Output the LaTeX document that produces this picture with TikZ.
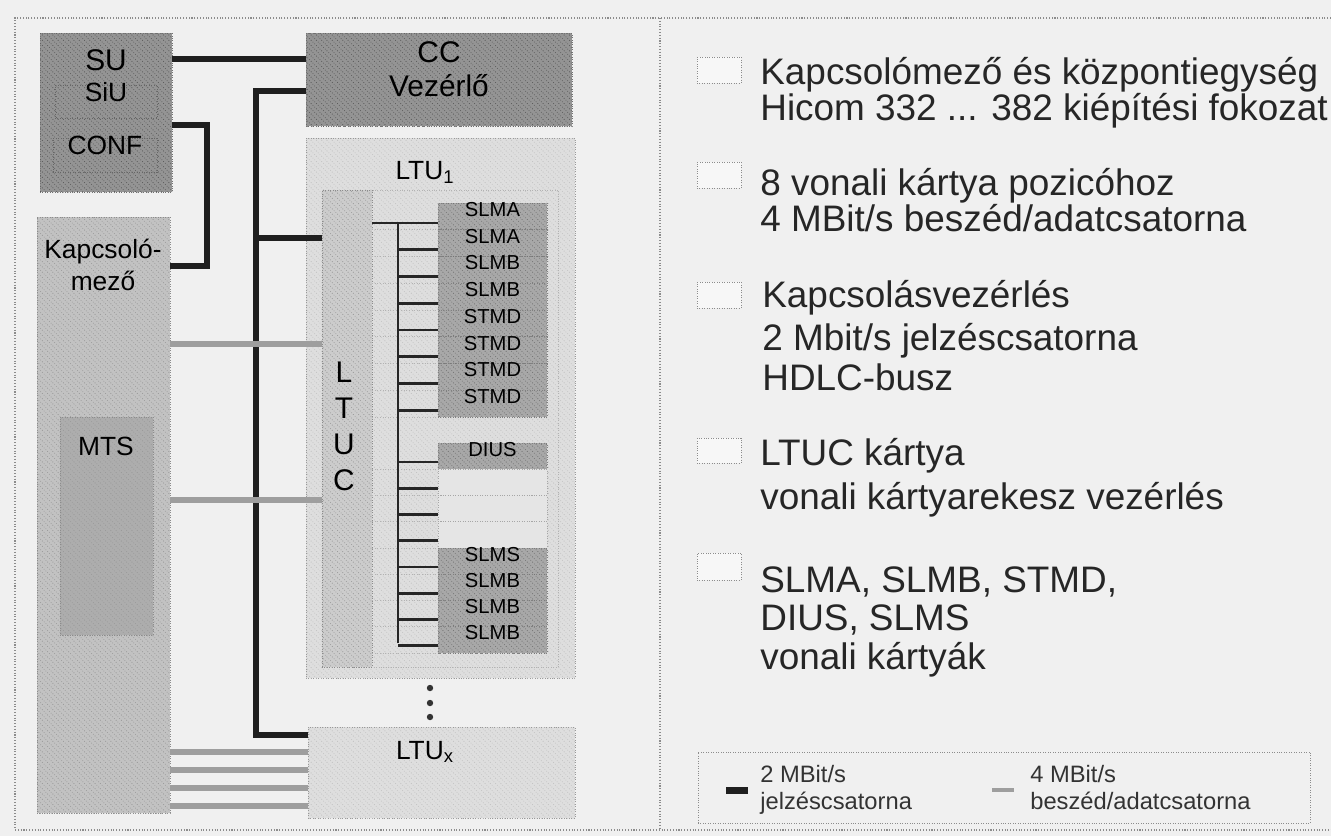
\documentclass[tikz,border=0pt]{standalone}
\usepackage{fontspec}
\setmainfont{Liberation Sans}
\usetikzlibrary{fit,patterns,positioning}

\begin{document}
\begin{tikzpicture}[x=0.02cm,y=-0.02cm,
  font=\fontsize{15}{18}\selectfont,
  frame/.style={draw=black!45, densely dotted, line width=0.6pt},
  dark/.style={draw=black!55, densely dotted, fill=black!42, inner sep=0pt,
               postaction={pattern=north west lines, pattern color=black!65}},
  mid/.style={draw=black!45, densely dotted, fill=black!24, inner sep=0pt,
              postaction={pattern=north west lines, pattern color=black!40}},
  pale/.style={draw=black!40, densely dotted, fill=black!13, inner sep=0pt,
               postaction={pattern=north west lines, pattern color=black!24}},
  inset/.style={draw=black!60, densely dotted, inner sep=0pt},
  card/.style={draw=black!50, densely dotted, fill=black!34, inner sep=0pt,
               font=\fontsize{11.5}{13}\selectfont,
               postaction={pattern=north west lines, pattern color=black!55}},
  vacant/.style={draw=black!35, densely dotted, fill=black!10, inner sep=0pt},
  sig/.style={draw=black!88, line width=3.4pt},
  voice/.style={draw=black!38, line width=3pt},
  comb/.style={draw=black!85, line width=1.6pt},
  slotline/.style={draw=black!30, densely dotted, line width=0.5pt},
  swatch/.style={draw=black!45, densely dotted, fill=black!3, inner sep=0pt},
  entry/.style={anchor=base west, inner sep=0pt, font=\fontsize{21}{23}\selectfont, text=black!85},
  keytext/.style={anchor=base west, inner sep=0pt, font=\fontsize{13.5}{15}\selectfont, text=black!80}
]
\fill[black!6] (0,0) rectangle (1331,836);
\useasboundingbox (0,0) rectangle (1331,836);
\draw[frame] (1331,18) -- (15,18) -- (15,830) -- (1331,830);
\draw[frame] (660,18) -- (660,830);

% switching part
\node[dark, fit={(40,33) (172,192)}] (su) {};
\node (sulbl) at (106,60) {\fontsize{17}{20}\selectfont SU};
\node[inset, fit={(55,85) (157,118)}] (siu) {SiU};
\node[inset, fit={(53,138) (157,172)}] (conf) {CONF};
\node[dark, fit={(306,33) (572,126)}, align=center, font=\fontsize{17}{19}\selectfont] (cc) {CC\\Vezérlő};
\node[mid, fit={(37,217) (170,813)}] (km) {};
\node[align=center] (kmlbl) at (103,265) {Kapcsoló-\\mező};
\node[mid, fill=black!32, fit={(60,417) (153,635)}] (mts) {};
\node (mtslbl) at (106,446) {MTS};

% line trunk units
\node[pale, fit={(306,138) (575,678)}] (ltu1) {};
\node (ltu1lbl) at (425,172) {LTU\textsubscript{1}};
\node[inset, draw=black!30, fit={(322,190) (558,667)}] (bay) {};
\node[mid, fill=black!20, fit={(322,190) (372,667)}] (ltuc) {};
\node[align=center, font=\fontsize{17}{20.5}\selectfont] (ltuclbl) at (344,426) {L\\T\\U\\C};
\foreach \lbl [count=\i from 0] in {SLMA,SLMA,SLMB,SLMB,STMD,STMD,STMD,STMD} {
  \pgfmathsetmacro\ctop{203+26.75*\i}
  \pgfmathsetmacro\cbot{\ctop+26.75}
  \pgfmathsetmacro\ty{\ctop+20}
  \draw[slotline] (372,\cbot) -- (438,\cbot);
  \node[card, fit={(438,\ctop) (547,\cbot)}] (c\i) {\lbl};
  \draw[comb] (398,\ty) -- (c\i.west |- 0,\ty);
}
\foreach \lbl/\sty [count=\i from 8] in {DIUS/card,{}/vacant,{}/vacant,{}/vacant,SLMS/card,SLMB/card,SLMB/card,SLMB/card} {
  \pgfmathsetmacro\ctop{443+26.25*(\i-8)}
  \pgfmathsetmacro\cbot{\ctop+26.25}
  \pgfmathsetmacro\ty{\ctop+19}
  \draw[slotline] (372,\cbot) -- (438,\cbot);
  \node[\sty, fit={(438,\ctop) (547,\cbot)}] (c\i) {\lbl};
  \draw[comb] (398,\ty) -- (c\i.west |- 0,\ty);
}
\coordinate (combtop) at (398,223);
\coordinate (combbot) at (398,643);
\draw[comb] (ltuc.east |- combtop) -- (c0.west |- combtop);
\draw[comb] (combtop) -- (combbot);
\foreach \y in {688,703,717} \fill[black!80] (430,\y) circle (3.2);
\node[pale, fit={(308,727) (575,818)}] (ltux) {};
\node (ltuxlbl) at (425,752) {LTU\textsubscript{x}};

% signalling bus
\coordinate (busin) at (256,91);
\coordinate (busout) at (256,735);
\coordinate (busltu) at (256,238);
\draw[sig] (su.east |- 0,59) -- (cc.west |- 0,59);
\draw[sig] (cc.west |- busin) -- (busin) -- (busout) -- (ltux.west |- busout);
\draw[sig] (busltu) -- (ltuc.west |- busltu);
\coordinate (kmbend) at (207,125);
\draw[sig] (su.east |- kmbend) -- (kmbend) -- (kmbend |- 0,266) -- (km.east |- 0,266);

% voice/data
\foreach \y in {344,500} \draw[voice] (km.east |- 0,\y) -- (ltuc.west |- 0,\y);
\foreach \y in {752,770,788,806} \draw[voice] (km.east |- 0,\y) -- (ltux.west |- 0,\y);

% legend
\node[swatch, fit={(697,57) (741,83)}] (sw1) {};
\node[entry] (e1a) at (760,84) {Kapcsolómező és központiegység};
\node[entry] (e1b) at (760,120) {Hicom 332 ... 382 kiépítési fokozat};
\node[swatch, fit={(697,162) (741,188)}] (sw2) {};
\node[entry] (e2a) at (760,195) {8 vonali kártya pozicóhoz};
\node[entry] (e2b) at (760,231) {4 MBit/s beszéd/adatcsatorna};
\node[swatch, fit={(697,282) (741,308)}] (sw3) {};
\node[entry] (e3a) at (762,307) {Kapcsolásvezérlés};
\node[entry] (e3b) at (762,350) {2 Mbit/s jelzéscsatorna};
\node[entry] (e3c) at (762,390) {HDLC-busz};
\node[swatch, fit={(697,438) (741,463)}] (sw4) {};
\node[entry] (e4a) at (760,465) {LTUC kártya};
\node[entry] (e4b) at (760,509) {vonali kártyarekesz vezérlés};
\node[swatch, fit={(697,553) (741,580)}] (sw5) {};
\node[entry] (e5a) at (760,592) {SLMA, SLMB, STMD,};
\node[entry] (e5b) at (760,630) {DIUS, SLMS};
\node[entry] (e5c) at (760,669) {vonali kártyák};

\node[swatch, fill=none, fit={(698,752) (1310,823)}] (key) {};
\draw[sig, line width=4pt] (726,790) -- (748,790);
\node[keytext] (k1a) at (760,782) {2 MBit/s};
\node[keytext] (k1b) at (760,809) {jelzéscsatorna};
\draw[voice, line width=2.5pt] (992,790) -- (1014,790);
\node[keytext] (k2a) at (1030,782) {4 MBit/s};
\node[keytext] (k2b) at (1030,809) {beszéd/adatcsatorna};
\end{tikzpicture}
\end{document}
